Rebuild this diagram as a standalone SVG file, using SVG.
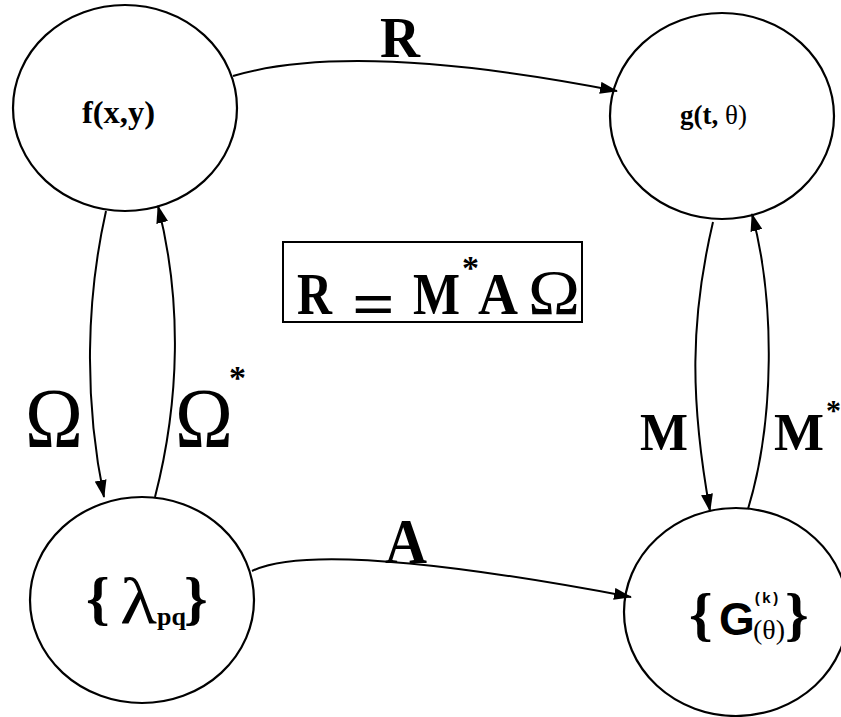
<svg xmlns="http://www.w3.org/2000/svg" width="841" height="717" viewBox="0 0 841 717">
<style>
.n{fill:none;stroke:#000;stroke-width:2.2}
.e{fill:none;stroke:#000;stroke-width:2}
.s{font-family:"Liberation Serif","Times New Roman",serif;fill:#000}
.b{font-weight:bold}
</style>
<defs>
<marker id="ah" markerUnits="userSpaceOnUse" markerWidth="18" markerHeight="12" viewBox="0 0 18 12" refX="17" refY="6" orient="auto">
<path d="M0,0 L18,6 L0,12 Z" fill="#000"/>
</marker>
</defs>
<rect width="841" height="717" fill="#fff"/>
<g id="connectors">
<path class="e" d="M233,76 Q355,40 617,91" marker-end="url(#ah)"/>
<path class="e" d="M252,571 Q319,538 631,597" marker-end="url(#ah)"/>
<path class="e" d="M106,211 C86,300 84,400 104,497" marker-end="url(#ah)"/>
<path class="e" d="M155,497 C180,400 182,300 158,206" marker-end="url(#ah)"/>
<path class="e" d="M713,222 C690,320 690,400 710,511" marker-end="url(#ah)"/>
<path class="e" d="M748,509 C775,420 775,300 752,214" marker-end="url(#ah)"/>
<text class="s b" x="380" y="57" font-size="58" textLength="40" lengthAdjust="spacingAndGlyphs">R</text>
<text class="s b" x="385" y="563" font-size="64" textLength="42" lengthAdjust="spacingAndGlyphs">A</text>
<text class="s" x="25" y="447" font-size="84" textLength="58" lengthAdjust="spacingAndGlyphs">Ω</text>
<text class="s" x="175" y="447" font-size="84" textLength="58" lengthAdjust="spacingAndGlyphs">Ω</text>
<text class="s b" x="229" y="389" font-size="34">*</text>
<text class="s b" x="640" y="450" font-size="52" textLength="48" lengthAdjust="spacingAndGlyphs">M</text>
<text class="s b" x="774" y="450" font-size="52" textLength="50" lengthAdjust="spacingAndGlyphs">M</text>
<text class="s b" x="826" y="420" font-size="30">*</text>
</g>
<g id="node-f">
<ellipse class="n" cx="125" cy="108" rx="112" ry="103"/>
<text class="s b" x="82" y="123" font-size="32" textLength="73" lengthAdjust="spacingAndGlyphs">f(x,y)</text>
</g>
<g id="node-g">
<ellipse class="n" cx="722" cy="116" rx="112" ry="103"/>
<text class="s" x="680" y="124" font-size="28" textLength="67" lengthAdjust="spacingAndGlyphs"><tspan font-weight="bold">g(t,</tspan> θ)</text>
</g>
<g id="node-lambda">
<ellipse class="n" cx="142" cy="600" rx="112" ry="103"/>
<text class="s b" x="86" y="618" font-size="60">{</text>
<text class="s" x="120" y="623" font-size="66" textLength="37" lengthAdjust="spacingAndGlyphs">λ</text>
<text class="s b" x="157" y="625" font-size="26">pq</text>
<text class="s b" x="184" y="618" font-size="60">}</text>
</g>
<g id="node-G">
<ellipse class="n" cx="736" cy="612" rx="112" ry="104"/>
<text class="s b" x="689" y="634" font-size="60">{</text>
<text x="719" y="635" font-size="46" font-weight="bold" font-family="'Liberation Sans',Arial,sans-serif">G</text>
<text x="753" y="603" font-size="15" font-weight="bold" font-family="'Liberation Mono','Courier New',monospace">(k)</text>
<text class="s" x="753" y="639" font-size="28">(θ)</text>
<text class="s b" x="785" y="634" font-size="60">}</text>
</g>
<g id="equation">
<rect x="283" y="242" width="299" height="80" fill="none" stroke="#000" stroke-width="2"/>
<text class="s b" x="297" y="314" font-size="60" textLength="35" lengthAdjust="spacingAndGlyphs">R</text>
<text class="s b" x="352" y="326" font-size="64" textLength="43" lengthAdjust="spacingAndGlyphs">=</text>
<text class="s b" x="413" y="314" font-size="60" textLength="47" lengthAdjust="spacingAndGlyphs">M</text>
<text class="s b" x="462" y="279" font-size="34">*</text>
<text class="s b" x="478" y="314" font-size="60" textLength="40" lengthAdjust="spacingAndGlyphs">A</text>
<text class="s" x="528" y="314" font-size="64" textLength="52" lengthAdjust="spacingAndGlyphs">Ω</text>
</g>
</svg>
